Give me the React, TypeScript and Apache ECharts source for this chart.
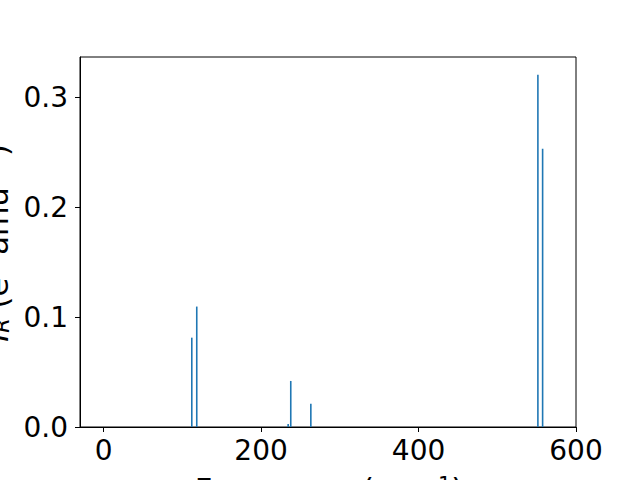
import React, { useEffect, useRef } from "react";
import * as echarts from "echarts";

const frequencies = [112.0, 118.3, 234.4, 237.7, 263.2, 551.6, 557.6];
const intensities = [0.0813, 0.1096, 0.0027, 0.0419, 0.0212, 0.3206, 0.2532];
const xTicks = [0, 200, 400, 600];
const yTicks = [0, 0.1, 0.2, 0.3];

const FONT = "DejaVu Sans";
const FS = 28;
const LFS = 30.5;
const SFS = 21;

export default function App() {
  const ref = useRef<HTMLDivElement>(null);
  useEffect(() => {
    const chart = echarts.init(ref.current!, null, { renderer: "svg" });
    const data = frequencies.map((f, i) => [f, intensities[i]]);
    chart.setOption({
      animation: false,
      backgroundColor: "#ffffff",
      grid: {
        left: 80,
        right: 64,
        top: 57,
        bottom: 53,
        show: true,
        borderColor: "#000",
        borderWidth: 1,
        backgroundColor: "transparent",
      },
      xAxis: {
        type: "value",
        min: -30,
        max: 600,
        splitLine: { show: false },
        axisLine: { show: true, onZero: false, lineStyle: { color: "#000", width: 1 } },
        axisTick: { show: true, inside: false, length: 5, customValues: xTicks, lineStyle: { color: "#000" } },
        axisLabel: {
          customValues: xTicks,
          margin: 9,
          color: "#000",
          fontFamily: FONT,
          fontSize: FS,
          formatter: (v: number) => String(v),
        },
      },
      yAxis: {
        type: "value",
        min: 0,
        max: 0.3367,
        splitLine: { show: false },
        axisLine: { show: true, onZero: false, lineStyle: { color: "#000", width: 1 } },
        axisTick: { show: true, inside: false, length: 5, customValues: yTicks, lineStyle: { color: "#000" } },
        axisLabel: {
          customValues: yTicks,
          margin: 12,
          color: "#000",
          fontFamily: FONT,
          fontSize: FS,
          formatter: (v: number) => v.toFixed(1),
        },
      },
      series: [
        {
          type: "bar",
          data,
          barWidth: 1.6,
          itemStyle: { color: "#1f77b4" },
        },
      ],
      graphic: [
        {
          type: "text",
          x: 329,
          y: 474,
          style: {
            text: "{n|Frequency (cm}{sup|−1}{n|)}",
            align: "center",
            verticalAlign: "top",
            fill: "#000",
            rich: {
              n: { fontFamily: FONT, fontSize: LFS, fill: "#000", verticalAlign: "bottom" },
              sup: { fontFamily: FONT, fontSize: SFS, fill: "#000", verticalAlign: "top" },
            },
          },
        },
        {
          type: "text",
          x: -3,
          y: 243,
          rotation: Math.PI / 2,
          style: {
            text: "{it|I}{sub|R}{n| (e}{sup|2}{n| amu}{sup|−1}{n|)}",
            align: "center",
            verticalAlign: "middle",
            fill: "#000",
            rich: {
              it: { fontFamily: FONT, fontSize: LFS, fontStyle: "italic", fill: "#000", verticalAlign: "middle" },
              sub: { fontFamily: FONT, fontSize: SFS, fontStyle: "italic", fill: "#000", verticalAlign: "bottom" },
              n: { fontFamily: FONT, fontSize: LFS, fill: "#000", verticalAlign: "middle" },
              sup: { fontFamily: FONT, fontSize: SFS, fill: "#000", verticalAlign: "top" },
            },
          },
        },
      ],
    });
    return () => chart.dispose();
  }, []);
  return <div ref={ref} style={{ width: 640, height: 480, position: "absolute", left: 0, top: 0 }} />;
}
